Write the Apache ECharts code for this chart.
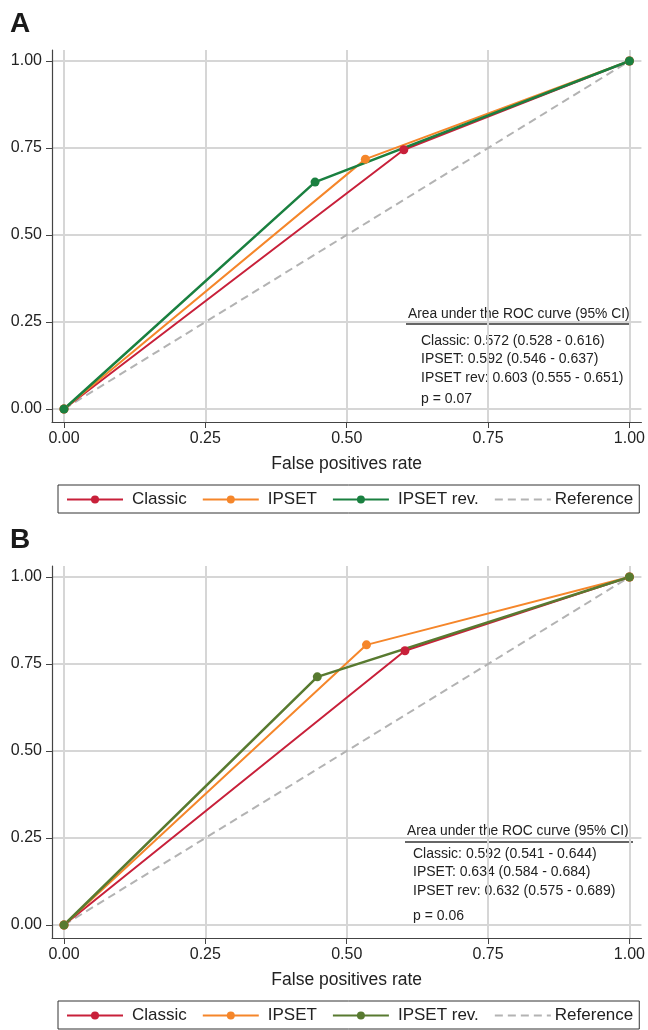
<!DOCTYPE html>
<html>
<head>
    <meta charset="UTF-8">
    <title>ROC curves</title>
    <script src="https://cdn.jsdelivr.net/npm/echarts@6.0.0/dist/echarts.min.js"></script>
</head>
<body style="margin: 0; background-color: white;">
<div id="chart" style="width: 648px; height: 1030px;"></div>

<script>
    // tick values shared by both axes
    const tickValues = [0, 0.25, 0.5, 0.75, 1];

    // panel A points [false positive rate, true positive rate]
    const classicA = [[0, 0], [0.601, 0.745], [1, 1]];
    const ipsetA = [[0, 0], [0.533, 0.718], [1, 1]];
    const ipsetRevA = [[0, 0], [0.444, 0.652], [1, 1]];

    // panel B points
    const classicB = [[0, 0], [0.603, 0.788], [1, 1]];
    const ipsetB = [[0, 0], [0.535, 0.805], [1, 1]];
    const ipsetRevB = [[0, 0], [0.448, 0.713], [1, 1]];

    const referenceLine = [[0, 0], [1, 1]];

    // AUC annotation texts
    const aucHeader = 'Area under the ROC curve (95% CI)';
    const aucA = ['Classic: 0.572 (0.528 - 0.616)', 'IPSET: 0.592 (0.546 - 0.637)', 'IPSET rev: 0.603 (0.555 - 0.651)', 'p = 0.07'];
    const aucB = ['Classic: 0.592 (0.541 - 0.644)', 'IPSET: 0.634 (0.584 - 0.684)', 'IPSET rev: 0.632 (0.575 - 0.689)', 'p = 0.06'];

    const legendNames = ['Classic', 'IPSET', 'IPSET rev.', 'Reference'];

    const RED = '#c8203a';
    const ORANGE = '#f5862a';
    const GREEN_A = '#1a8040';
    const GREEN_B = '#587a30';
    const GREY = '#b3b3b3';
    const FONT = 'Liberation Sans, Arial, sans-serif';

    const myChart = echarts.init(document.getElementById('chart'));

    function makeXAxis(gridIndex) {
        return {
            type: 'value',
            gridIndex: gridIndex,
            min: -0.0212,
            max: 1.0212,
            name: 'False positives rate',
            nameLocation: 'middle',
            nameGap: 33,
            nameTextStyle: { fontSize: 17.5, color: '#222', fontFamily: FONT },
            axisLine: { onZero: false, lineStyle: { color: '#444', width: 1.2 } },
            axisTick: { customValues: tickValues, length: 6, lineStyle: { color: '#444' } },
            axisLabel: {
                customValues: tickValues, margin: 9, fontSize: 16, color: '#222', fontFamily: FONT,
                formatter: function (v) { return v.toFixed(2); }
            },
            splitLine: { show: true, lineStyle: { color: '#d6d6d6', width: 2 } }
        };
    }

    function makeYAxis(gridIndex) {
        return {
            type: 'value',
            gridIndex: gridIndex,
            min: -0.0374,
            max: 1.0316,
            axisLine: { show: true, onZero: false, lineStyle: { color: '#444', width: 1.2 } },
            axisTick: { show: true, customValues: tickValues, length: 6, lineStyle: { color: '#444' } },
            axisLabel: {
                customValues: tickValues, margin: 10, fontSize: 16, color: '#222', fontFamily: FONT,
                formatter: function (v) { return v.toFixed(2); }
            },
            splitLine: { show: true, lineStyle: { color: '#d6d6d6', width: 2 } }
        };
    }

    function curve(name, data, color, width, idx) {
        return {
            name: name,
            type: 'line',
            xAxisIndex: idx,
            yAxisIndex: idx,
            data: data,
            symbol: 'circle',
            symbolSize: 9,
            showSymbol: true,
            lineStyle: { color: color, width: width },
            itemStyle: { color: color },
            emphasis: { disabled: true },
            animation: false
        };
    }

    function reference(idx) {
        return {
            name: 'Reference',
            type: 'line',
            xAxisIndex: idx,
            yAxisIndex: idx,
            data: referenceLine,
            symbol: 'none',
            lineStyle: { color: GREY, width: 2, type: [8, 5] },
            itemStyle: { color: GREY },
            animation: false
        };
    }

    function makeLegend(top, green) {
        const colors = [RED, ORANGE, green, GREY];
        return {
            left: 58,
            top: top,
            orient: 'horizontal',
            itemWidth: 56,
            itemHeight: 10,
            itemGap: 15,
            padding: [6, 6, 5, 8],
            borderColor: '#333',
            borderWidth: 1,
            borderRadius: 0,
            selectedMode: false,
            textStyle: { fontSize: 17, color: '#222', fontFamily: FONT, padding: [0, 0, 0, 4] },
            data: legendNames.map(function (n, i) {
                const isRef = n === 'Reference';
                return {
                    name: n,
                    itemStyle: { color: colors[i], opacity: isRef ? 0 : 1 },
                    lineStyle: { color: colors[i], width: 2, type: isRef ? [8, 5] : 'solid' },
                    textStyle: { padding: [0, 0, 0, isRef ? -1 : 4] }
                };
            })
        };
    }

    function aucGraphics(x0, yHead, yLine, xText, rowsY, rows, lineX1) {
        const items = [{
            type: 'text', left: x0, top: yHead - 8,
            style: { text: aucHeader, fontSize: 13.8, fill: '#222', fontFamily: FONT }
        }, {
            type: 'line',
            shape: { x1: x0 - 2, y1: yLine, x2: lineX1, y2: yLine },
            style: { stroke: '#333', lineWidth: 1.5 }
        }];
        rows.forEach(function (t, i) {
            items.push({
                type: 'text', left: xText, top: rowsY[i] - 8,
                style: { text: t, fontSize: 14, fill: '#222', fontFamily: FONT }
            });
        });
        return items;
    }

    const option = {
        animation: false,
        grid: [
            { left: 52, right: 5, top: 50, height: 372, containLabel: false },
            { left: 52, right: 5, top: 566, height: 372, containLabel: false }
        ],
        xAxis: [makeXAxis(0), makeXAxis(1)],
        yAxis: [makeYAxis(0), makeYAxis(1)],
        legend: [makeLegend(485, GREEN_A), makeLegend(1001, GREEN_B)],
        series: [
            reference(0),
            curve('Classic', classicA, RED, 2, 0),
            curve('IPSET', ipsetA, ORANGE, 2, 0),
            curve('IPSET rev.', ipsetRevA, GREEN_A, 2.5, 0),
            reference(1),
            curve('Classic', classicB, RED, 2, 1),
            curve('IPSET', ipsetB, ORANGE, 2, 1),
            curve('IPSET rev.', ipsetRevB, GREEN_B, 2.5, 1)
        ],
        graphic: [
            { type: 'text', left: 10, top: 10, style: { text: 'A', fontSize: 28, fontWeight: 'bold', fill: '#1a1a1a', fontFamily: FONT } },
            { type: 'text', left: 10, top: 526, style: { text: 'B', fontSize: 28, fontWeight: 'bold', fill: '#1a1a1a', fontFamily: FONT } }
        ].concat(
            aucGraphics(408, 315, 324, 421, [342, 360, 379, 400], aucA, 629),
            aucGraphics(407, 832, 842, 413, [855, 873, 892, 917], aucB, 633)
        )
    };

    myChart.setOption(option);
</script>
</body>
</html>
